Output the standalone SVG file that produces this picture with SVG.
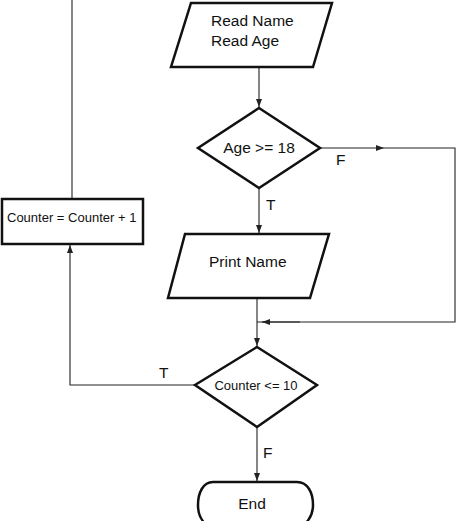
<svg xmlns="http://www.w3.org/2000/svg" width="474" height="521" viewBox="0 0 474 521">
<style>
.shape{fill:#fff;stroke:#111;stroke-width:2.5;stroke-linejoin:miter}
.conn{fill:none;stroke:#222;stroke-width:1.1}
text{font-family:"Liberation Sans",Arial,sans-serif;fill:#111}
.t15{font-size:15.5px}
.t13{font-size:13px}
</style>
<defs>
<marker id="arr" viewBox="0 0 8 6" refX="8" refY="3" markerWidth="8" markerHeight="6" markerUnits="userSpaceOnUse" orient="auto">
<path d="M0,0 L8,3 L0,6 Z" fill="#222"/>
</marker>
</defs>
<rect width="474" height="521" fill="#fff"/>
<g id="connectors">
<path class="conn" d="M72,199 V0"/>
<path class="conn" d="M259,67 V107" marker-end="url(#arr)"/>
<path class="conn" d="M320,148 H384" marker-end="url(#arr)"/>
<path class="conn" d="M384,148 H455 V322 H257"/>
<path class="conn" d="M300,322 H262" marker-end="url(#arr)"/>
<path class="conn" d="M259,188 V233" marker-end="url(#arr)"/>
<path class="conn" d="M257,298 V346" marker-end="url(#arr)"/>
<path class="conn" d="M195,385 H70 V245" marker-end="url(#arr)"/>
<path class="conn" d="M257,427 V481" marker-end="url(#arr)"/>
<text class="t15" x="336" y="165">F</text>
<text class="t15" x="266" y="210">T</text>
<text class="t15" x="159" y="378">T</text>
<text class="t15" x="263" y="458">F</text>
</g>
<g id="read">
<path class="shape" d="M191,3 H332 L313,67 H171 Z"/>
<text class="t15" x="211" y="26">Read Name</text>
<text class="t15" x="211" y="46">Read Age</text>
</g>
<g id="age-check">
<path class="shape" d="M259,108 L320,148 L259,188 L198,148 Z"/>
<text class="t15" x="259" y="153" text-anchor="middle">Age &gt;= 18</text>
</g>
<g id="print">
<path class="shape" d="M185,234 H329 L310,298 H168 Z"/>
<text class="t15" x="209" y="267">Print Name</text>
</g>
<g id="counter-inc">
<rect class="shape" x="2" y="199" width="141" height="45"/>
<text class="t13" x="7" y="222">Counter = Counter + 1</text>
</g>
<g id="counter-check">
<path class="shape" d="M257,347 L317,385 L257,427 L195,385 Z"/>
<text class="t13" x="256" y="390" text-anchor="middle">Counter &lt;= 10</text>
</g>
<g id="end">
<path class="shape" d="M213,482 H297 C308,482 313,493 313,505 C313,517 306,525 297,528 H213 C204,525 198,517 198,505 C198,493 203,482 213,482 Z"/>
<text class="t15" x="252" y="509" text-anchor="middle">End</text>
</g>
</svg>
